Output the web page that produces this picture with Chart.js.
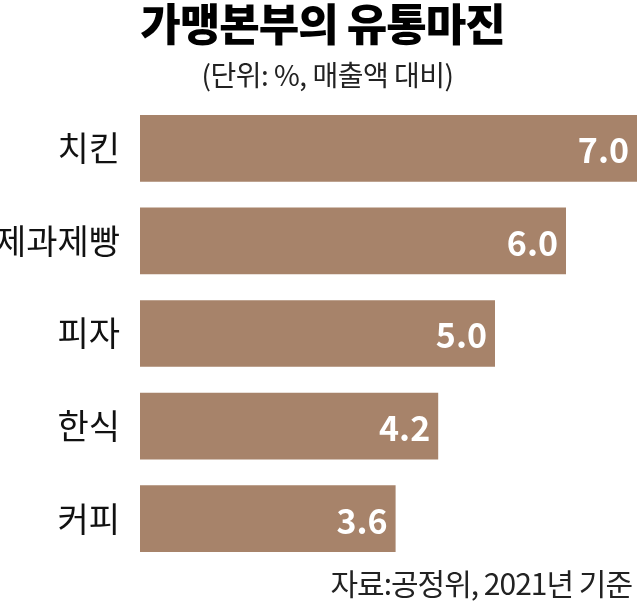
<!DOCTYPE html>
<html>
<head>
<meta charset="utf-8">
<script src="https://cdn.jsdelivr.net/npm/chart.js@4"></script>
<style>
  body { margin: 0; background: #fff; font-family: "Noto Sans CJK KR", sans-serif; }
  #wrap { position: relative; width: 638px; height: 605px; }
  #title { position: absolute; top: -10px; left: 0; width: 645px; text-align: center; font-size: 44px; font-weight: 900; letter-spacing: -1px; }
  #sub { position: absolute; top: 54px; left: 0; width: 655px; text-align: center; font-size: 28px; color: #222; letter-spacing: -0.5px; }
  #src { position: absolute; top: 560px; right: 6px; font-size: 30px; color: #222; letter-spacing: -1px; }
</style>
</head>
<body>
<div id="wrap">
  <canvas id="myChart" width="638" height="605"></canvas>
  <div id="title">가맹본부의 유통마진</div>
  <div id="sub">(단위: %, 매출액 대비)</div>
  <div id="src">자료:공정위, 2021년 기준</div>
</div>
<script>
const categories = ['치킨', '제과제빵', '피자', '한식', '커피'];
const margins = [7.0, 6.0, 5.0, 4.2, 3.6];

// write value at the end of each bar
const valueLabels = {
  id: 'valueLabels',
  afterDatasetsDraw(chart) {
    const ctx = chart.ctx;
    const meta = chart.getDatasetMeta(0);
    ctx.save();
    ctx.fillStyle = '#fff';
    ctx.font = 'bold 34px "Noto Sans CJK KR"';
    ctx.textAlign = 'right';
    ctx.textBaseline = 'middle';
    meta.data.forEach((bar, i) => {
      ctx.fillText(margins[i].toFixed(1), bar.x - 8, bar.y + 2);
    });
    ctx.restore();
  }
};

new Chart(document.getElementById('myChart'), {
  type: 'bar',
  data: {
    labels: categories,
    datasets: [{
      data: margins,
      backgroundColor: '#A7836A',
      barPercentage: 0.72,
      categoryPercentage: 1
    }]
  },
  options: {
    indexAxis: 'y',
    responsive: false,
    animation: false,
    layout: { padding: { top: 102, bottom: 40, left: 0, right: 1 } },
    plugins: { legend: { display: false }, tooltip: { enabled: false } },
    scales: {
      x: { display: false, min: 0, max: 7.0 },
      y: {
        border: { display: false },
        grid: { display: false },
        ticks: { color: '#111', font: { size: 34, family: 'Noto Sans CJK KR' }, padding: 12 },
        afterFit(axis) { axis.width = 140; }
      }
    }
  },
  plugins: [valueLabels]
});
</script>
</body>
</html>
